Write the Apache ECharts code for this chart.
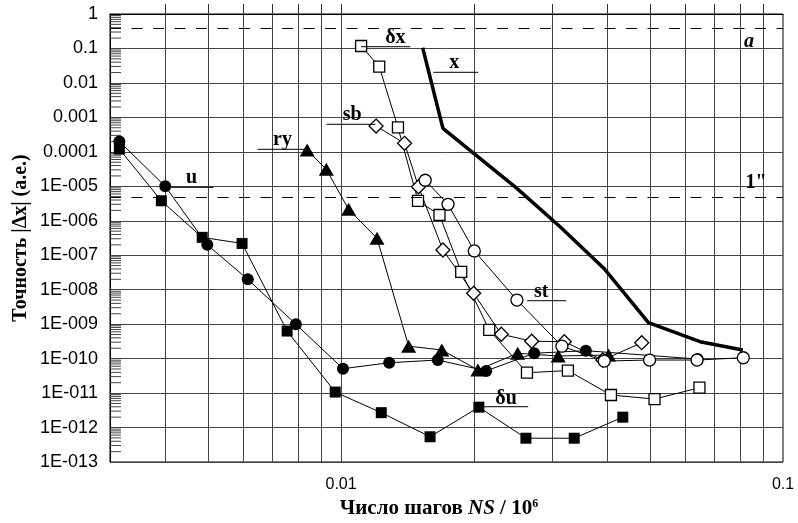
<!DOCTYPE html>
<html>
<head>
<meta charset="utf-8">
<title>Точность |Δx|</title>
<script src="https://cdn.jsdelivr.net/npm/echarts@6.0.0/dist/echarts.min.js"></script>
<style>
html, body { margin: 0; padding: 0; background: #fff; }
#main { width: 798px; height: 523px; }
</style>
</head>
<body>
<div id="main"></div>
<script>
// число шагов NS/10^6 и ошибка |Δx| (а.е.) по каждой кривой
var uX  = [0.00315, 0.004, 0.00498, 0.00615, 0.0079, 0.0101, 0.01285, 0.01655, 0.0213, 0.02735, 0.0358, 0.0641];
var uY  = [2e-4, 1e-5, 2e-7, 2e-8, 1e-9, 5.1e-11, 7.6e-11, 9.1e-11, 4.4e-11, 1.43e-10, 1.7e-10, 9.7e-11];

var duX = [0.00315, 0.00392, 0.00485, 0.00597, 0.00755, 0.0097, 0.01233, 0.0159, 0.0205, 0.0262, 0.0337, 0.0434];
var duY = [1.2e-4, 3.8e-6, 3.3e-7, 2.2e-7, 6.3e-10, 1.07e-11, 2.7e-12, 5.4e-13, 3.9e-12, 4.9e-13, 4.9e-13, 2.0e-12];

var ryX = [0.00838, 0.00926, 0.0104, 0.01206, 0.01422, 0.0169, 0.0204, 0.0251, 0.031, 0.0403];
var ryY = [1.13e-4, 3.1e-5, 2.15e-6, 3.1e-7, 2.3e-10, 1.78e-10, 4.7e-11, 1.43e-10, 1.19e-10, 1.27e-10];

var sbX = [0.012, 0.01392, 0.01497, 0.017, 0.01995, 0.02304, 0.027, 0.032, 0.0391, 0.0479];
var sbY = [5.6e-4, 1.77e-4, 9.7e-6, 1.42e-7, 7.85e-9, 5.1e-10, 3.2e-10, 3.1e-10, 9.1e-11, 2.9e-10];

var dxX = [0.0111, 0.0122, 0.01345, 0.01493, 0.0167, 0.0187, 0.02164, 0.02634, 0.0326, 0.0408, 0.0512, 0.0647];
var dxY = [0.118, 0.0296, 5.15e-4, 3.8e-6, 1.47e-6, 3.3e-8, 6.8e-10, 3.9e-11, 4.5e-11, 8.8e-12, 6.7e-12, 1.43e-11];

var stX = [0.0155, 0.01746, 0.02002, 0.025, 0.0316, 0.0394, 0.0499, 0.0639, 0.0813];
var stY = [1.5e-5, 3.0e-6, 1.33e-7, 5.0e-9, 2.3e-10, 8.5e-11, 9.1e-11, 9.1e-11, 1.06e-10];

var xX  = [0.0153, 0.017, 0.025, 0.0313, 0.0393, 0.0496, 0.0649, 0.0811];
var xY  = [0.105, 4.8e-4, 8.7e-6, 6.7e-7, 4.2e-8, 1.1e-9, 3.1e-10, 1.78e-10];

// уровни: большая полуось Меркурия (а.е.) и 1 угловая секунда
var levelA = 0.387;
var level1sec = 4.85e-6;

// оси
var xMin = 0.003, xMax = 0.1;
var xTickValues = [0.01, 0.1];
var xTickLabels = ['0.01', '0.1'];
var xGridValues = [0.004, 0.005, 0.006, 0.007, 0.008, 0.009,
                   0.01, 0.02, 0.03, 0.04, 0.05, 0.06, 0.07, 0.08, 0.09];
var yTickLabels = ['1E-013', '1E-012', '1E-011', '1E-010', '1E-009', '1E-008', '1E-007',
                   '1E-006', '1E-005', '0.0001', '0.001', '0.01', '0.1', '1'];

// подписи кривых: текст, отрезок-выноска и место текста
var noteText  = ['δx', 'x', 'sb', 'ry', 'u', 'st', 'δu', 'a', '1"'];
var noteFrom  = [0.0111, 0.01617, 0.009265, 0.006469, 0.003964, 0.02637, 0.02033, null, null];
var noteTo    = [0.01435, 0.02043, 0.01196, 0.008303, 0.005143, 0.0323, 0.02651, null, null];
var noteLineY = [0.1125, 0.02033, 6.3e-4, 1.185e-4, 9.35e-6, 4.79e-9, 4.02e-12, null, null];
var noteTextX = [0.01327, 0.01804, 0.0106, 0.007369, 0.004586, 0.02837, 0.02363, 0.08377, 0.08687];
var noteTextY = [0.201, 0.0378, 1.17e-3, 2.21e-4, 1.74e-5, 8.57e-9, 6.73e-12, 0.154, 1.246e-5];

var lg = Math.log10;
function pairs(xs, ys) {
    return xs.map(function (x, i) { return [lg(x), lg(ys[i])]; });
}

var serif = '"Liberation Serif", "Times New Roman", serif';
var sans = '"Liberation Sans", Arial, sans-serif';

// мелкие риски логарифмической шкалы у левой оси
var minorTicks = [];
for (var d = -13; d < 0; d++) {
    for (var k = 2; k <= 9; k++) minorTicks.push([lg(xMin), d + lg(k)]);
}

var myChart = echarts.init(document.getElementById('main'));

function curve(name, xs, ys, symbol, size, filled, width) {
    return {
        name: name,
        type: 'line',
        data: pairs(xs, ys),
        symbol: symbol,
        symbolSize: size,
        showSymbol: symbol !== 'none',
        itemStyle: filled
            ? { color: '#000' }
            : { color: '#fff', borderColor: '#000', borderWidth: 1.3 },
        lineStyle: { color: '#000', width: width || 1 },
        emphasis: { disabled: true },
        z: 3
    };
}

var option = {
    backgroundColor: '#fff',
    animation: false,
    grid: {
        left: 110, right: 15, top: 14, bottom: 61,
        show: true, borderColor: '#000', borderWidth: 1,
        containLabel: false, outerBoundsMode: 'none'
    },
    xAxis: {
        type: 'value',
        min: lg(xMin),
        max: lg(xMax),
        axisLine: { show: true, lineStyle: { color: '#000' } },
        axisTick: {
            show: true, inside: true, length: 10,
            customValues: xGridValues.map(lg),
            lineStyle: { color: '#333' }
        },
        axisLabel: {
            customValues: xTickValues.map(lg),
            formatter: function (v) {
                for (var i = 0; i < xTickValues.length; i++) {
                    if (Math.abs(lg(xTickValues[i]) - v) < 1e-6) return xTickLabels[i];
                }
                return '';
            },
            fontFamily: sans, fontSize: 16, color: '#000', margin: 15
        },
        splitLine: { show: true, lineStyle: { color: '#444', width: 1 } },
        name: '{a|Число шагов }{b|NS}{a| / 10}{c|6}',
        nameLocation: 'middle',
        nameGap: 36,
        nameMoveOverlap: false,
        nameTextStyle: {
            padding: [0, 15, 0, 0],
            rich: {
                a: { fontFamily: serif, fontWeight: 'bold', fontSize: 21, color: '#000' },
                b: { fontFamily: serif, fontWeight: 'bold', fontStyle: 'italic', fontSize: 21, color: '#000' },
                c: { fontFamily: serif, fontWeight: 'bold', fontSize: 12, color: '#000', verticalAlign: 'top', padding: [0, 0, 10, 0] }
            }
        }
    },
    yAxis: {
        type: 'value',
        min: -13,
        max: 0,
        interval: 1,
        axisLine: { show: true, lineStyle: { color: '#000' } },
        axisTick: { show: false },
        axisLabel: {
            formatter: function (v) { return yTickLabels[Math.round(v) + 13]; },
            fontFamily: sans, fontSize: 18, color: '#000', margin: 12
        },
        splitLine: { show: true, lineStyle: { color: '#444', width: 1 } },
        name: 'Точность |Δx| (а.е.)',
        nameLocation: 'middle',
        nameGap: 79,
        nameMoveOverlap: false,
        nameTextStyle: { fontFamily: serif, fontWeight: 'bold', fontSize: 20, color: '#000' }
    },
    series: [
        {
            type: 'custom',
            name: 'minor',
            silent: true,
            data: minorTicks,
            encode: { x: 0, y: 1 },
            renderItem: function (params, api) {
                var p = api.coord([api.value(0), api.value(1)]);
                return {
                    type: 'line',
                    shape: { x1: p[0], y1: p[1], x2: p[0] + 11, y2: p[1] },
                    style: { stroke: '#444', lineWidth: 1 }
                };
            },
            z: 2
        },
        curve('x', xX, xY, 'none', 0, true, 3.5),
        curve('u', uX, uY, 'circle', 12, true),
        curve('δu', duX, duY, 'rect', 11, true),
        curve('ry', ryX, ryY, 'triangle', [15, 13], true),
        curve('sb', sbX, sbY, 'diamond', 14, false),
        curve('δx', dxX, dxY, 'rect', 11, false),
        curve('st', stX, stY, 'circle', 12, false),
        {
            type: 'line',
            name: 'levels',
            data: [],
            markLine: {
                silent: true,
                symbol: 'none',
                label: { show: false },
                lineStyle: { type: [11, 10.5], color: '#000', width: 1 },
                data: [{ yAxis: lg(levelA) }, { yAxis: lg(level1sec) }]
            }
        },
        {
            type: 'custom',
            name: 'notes',
            silent: true,
            data: noteText.map(function (t, i) { return [lg(noteTextX[i]), lg(noteTextY[i]), i]; }),
            encode: { x: 0, y: 1 },
            renderItem: function (params, api) {
                var i = api.value(2);
                var children = [];
                if (noteFrom[i] != null) {
                    var p1 = api.coord([lg(noteFrom[i]), lg(noteLineY[i])]);
                    var p2 = api.coord([lg(noteTo[i]), lg(noteLineY[i])]);
                    children.push({
                        type: 'line',
                        shape: { x1: p1[0], y1: p1[1], x2: p2[0], y2: p2[1] },
                        style: { stroke: '#000', lineWidth: 1 }
                    });
                }
                var pt = api.coord([api.value(0), api.value(1)]);
                children.push({
                    type: 'text',
                    x: pt[0], y: pt[1],
                    style: {
                        text: noteText[i],
                        font: (noteText[i] === 'a' ? 'italic ' : '') + 'bold 20px ' + serif,
                        fill: '#000',
                        align: 'center', verticalAlign: 'middle',
                        textAlign: 'center', textVerticalAlign: 'middle'
                    }
                });
                return { type: 'group', children: children };
            },
            z: 5
        }
    ]
};

myChart.setOption(option);
window.addEventListener('resize', function () {
    myChart.resize();
});
</script>
</body>
</html>
